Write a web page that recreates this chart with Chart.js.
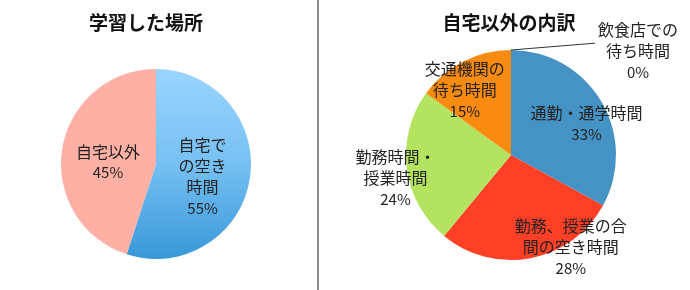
<!DOCTYPE html>
<html>
<head>
<meta charset="utf-8">
<script src="https://cdn.jsdelivr.net/npm/chart.js@4"></script>
<style>
  html, body { margin: 0; padding: 0; background: #fff; }
  #wrap { position: relative; width: 690px; height: 290px; overflow: hidden; }
  canvas { position: absolute; top: 0; }
  #leftChart { left: 0; }
  #rightChart { left: 320px; }
  .title { position: absolute; top: 8px; font: bold 19px "Noto Sans CJK JP", sans-serif; color: #111; text-align: center; }
  #sep { position: absolute; left: 317px; top: 0; width: 2px; height: 290px; background: #8c8c8c; }
</style>
</head>
<body>
<div id="wrap">
  <canvas id="leftChart" width="318" height="290"></canvas>
  <canvas id="rightChart" width="370" height="290"></canvas>
  <div id="sep"></div>
  <div class="title" style="left:46px;width:200px;">学習した場所</div>
  <div class="title" style="left:409px;width:200px;">自宅以外の内訳</div>
</div>
<script>
// Data
const placeLabels = ['自宅で\nの空き\n時間', '自宅以外'];
const placeValues = [55, 45];

const outsideLabels = ['通勤・通学時間', '勤務、授業の合\n間の空き時間', '勤務時間・\n授業時間', '交通機関の\n待ち時間', '飲食店での\n待ち時間'];
const outsideValues = [33, 28, 24, 15, 0];

// Label placement, as fractions of the radius from the pie centre
const placeLabelPos = [[0.49, 0.13], [-0.505, -0.02]];
const outsideLabelPos = [[0.72, -0.30], [0.57, 0.88], [-1.10, 0.22], [-0.44, -0.62], [1.21, -0.99]];

const FONT = '"Noto Sans CJK JP", sans-serif';

// Draws category + percent text for every slice
const sliceLabels = {
    id: 'sliceLabels',
    afterDatasetsDraw(chart, args, opts) {
        const ctx = chart.ctx;
        const meta = chart.getDatasetMeta(0);
        const labels = chart.data.labels;
        const values = chart.data.datasets[0].data;
        ctx.save();
        ctx.fillStyle = '#222';
        ctx.textAlign = 'center';
        ctx.textBaseline = 'middle';
        meta.data.forEach((arc, i) => {
            const p = arc.getProps(['x', 'y', 'outerRadius', 'startAngle'], true);
            const pos = opts.positions[i];
            const cx = p.x + pos[0] * p.outerRadius;
            const cy = p.y + pos[1] * p.outerRadius;
            const lines = labels[i].split('\n');
            lines.push(values[i] + '%');
            const lh = 21;
            const top = cy - (lines.length - 1) * lh / 2;
            lines.forEach((t, j) => {
                ctx.font = (j === lines.length - 1 ? '15px ' : '16px ') + FONT;
                ctx.fillText(t, cx, top + j * lh);
            });
            if (opts.leader === i) {
                const a = p.startAngle;
                ctx.strokeStyle = '#333';
                ctx.lineWidth = 1;
                ctx.beginPath();
                ctx.moveTo(p.x + Math.cos(a) * p.outerRadius, p.y + Math.sin(a) * p.outerRadius);
                ctx.lineTo(p.x + 0.80 * p.outerRadius, p.y - 1.065 * p.outerRadius);
                ctx.stroke();
            }
        });
        ctx.restore();
    }
};

function placeColor(context) {
    if (context.dataIndex === 1) return '#ffb0a5';
    const chart = context.chart;
    const area = chart.chartArea;
    if (!area) return '#6bb8ee';
    const g = chart.ctx.createLinearGradient(0, area.top, 0, area.bottom);
    g.addColorStop(0, '#9ad5ff');
    g.addColorStop(0.5, '#76c0f3');
    g.addColorStop(1, '#3898d8');
    return g;
}

new Chart(document.getElementById('leftChart'), {
    type: 'pie',
    data: {
        labels: placeLabels,
        datasets: [{
            data: placeValues,
            backgroundColor: placeColor,
            borderWidth: 0
        }]
    },
    options: {
        responsive: false,
        animation: false,
        layout: { padding: { left: 61, right: 67, top: 69, bottom: 31 } },
        plugins: {
            legend: { display: false },
            tooltip: { enabled: false },
            sliceLabels: { positions: placeLabelPos, leader: -1 }
        }
    },
    plugins: [sliceLabels]
});

new Chart(document.getElementById('rightChart'), {
    type: 'pie',
    data: {
        labels: outsideLabels,
        datasets: [{
            data: outsideValues,
            backgroundColor: ['#4493c4', '#ff3f26', '#b3e35f', '#f88b10', '#8064a2'],
            borderWidth: 0
        }]
    },
    options: {
        responsive: false,
        animation: false,
        layout: { padding: { left: 86, right: 74, top: 50, bottom: 30 } },
        plugins: {
            legend: { display: false },
            tooltip: { enabled: false },
            sliceLabels: { positions: outsideLabelPos, leader: 4 }
        }
    },
    plugins: [sliceLabels]
});
</script>
</body>
</html>
